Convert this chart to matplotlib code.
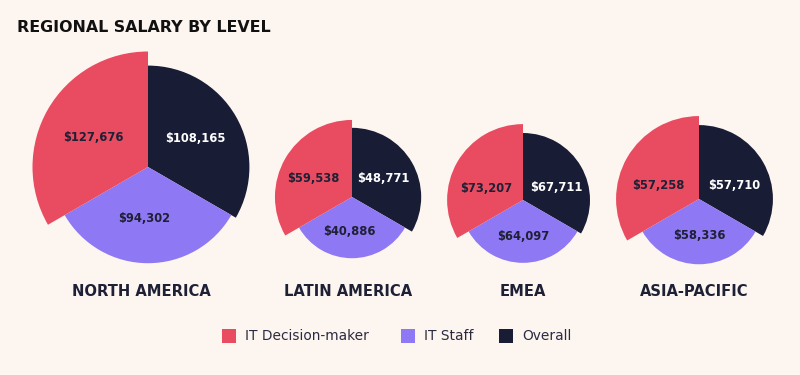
import math
import matplotlib
matplotlib.use("Agg")
import matplotlib.pyplot as plt
from matplotlib.patches import Wedge, Rectangle

# ---------------- data ----------------
regions = ["NORTH AMERICA", "LATIN AMERICA", "EMEA", "ASIA-PACIFIC"]
series = ["IT Decision-maker", "IT Staff", "Overall"]
decision_maker = [127676, 59538, 73207, 57258]
it_staff = [94302, 40886, 64097, 58336]
overall = [108165, 48771, 67711, 57710]
# slice size (z) values as drawn in the chart (relative, 100 = largest)
decision_maker_z = [100.0, 66.7, 65.7, 71.8]
it_staff_z = [83.3, 53.0, 54.4, 56.5]
overall_z = [87.8, 59.9, 58.0, 64.0]

title = "REGIONAL SALARY BY LEVEL"

# ---------------- style ----------------
BG = "#FDF5F0"
RED = "#E94B60"
PURPLE = "#8F78F4"
NAVY = "#181C35"
TEXT = "#1E2035"
FONT = "DejaVu Sans"

W, H = 800, 375
fig = plt.figure(figsize=(W / 100, H / 100), dpi=100, facecolor=BG)
ax = fig.add_axes([0, 0, 1, 1])
ax.set_xlim(0, W)
ax.set_ylim(0, H)
ax.axis("off")
ax.set_facecolor(BG)

px_per_z = 115.5 / 100.0
centers = [(148, 167), (352, 197), (523, 200), (699, 199)]
name_x = [141, 348, 523, 694]
# label placement (angle in degrees, fraction of slice radius) per pie
label_angles = {
    "overall": [31, 31, 20, 21],
    "staff": [-94, -94, -90, -90],
    "dm": [152, 155, 162, 162],
}
label_frac = {
    "overall": [0.55, 0.53, 0.53, 0.51],
    "staff": [0.535, 0.56, 0.58, 0.56],
    "dm": [0.54, 0.56, 0.51, 0.52],
}

# angles: Overall 90 -> -30 (clockwise), Staff -30 -> -150, Decision-maker 90 -> 210
slice_specs = [
    ("overall", overall, overall_z, NAVY, -30, 90, "white"),
    ("staff", it_staff, it_staff_z, PURPLE, 210, 330, TEXT),
    ("dm", decision_maker, decision_maker_z, RED, 90, 210, TEXT),
]

for i, (cx, cy_px) in enumerate(centers):
    cy = H - cy_px
    for key, vals, zs, color, t1, t2, tcol in slice_specs:
        r = zs[i] * px_per_z
        ax.add_patch(Wedge((cx, cy), r, t1, t2, facecolor=color, edgecolor="none"))
        a = math.radians(label_angles[key][i])
        lr = label_frac[key][i] * r
        ax.text(cx + lr * math.cos(a), cy + lr * math.sin(a),
                f"${vals[i]:,}", ha="center", va="center", color=tcol,
                fontsize=8.3, fontweight="bold", family=FONT)
    ax.text(name_x[i], H - 291, regions[i], ha="center", va="center",
            color=TEXT, fontsize=10.6, fontweight="bold", family=FONT)

ax.text(17, H - 27, title, ha="left", va="center", color="#111111",
        fontsize=11.4, fontweight="bold", family=FONT)

# legend
leg_x = [222, 401, 499]
leg_colors = [RED, PURPLE, NAVY]
for x, c, s in zip(leg_x, leg_colors, series):
    ax.add_patch(Rectangle((x, H - 343), 14, 14, facecolor=c, edgecolor="none"))
    ax.text(x + 23, H - 336.5, s, ha="left", va="center", color="#2A2B40",
            fontsize=9.95, family=FONT)

fig.savefig("out.png", dpi=100, facecolor=BG)
